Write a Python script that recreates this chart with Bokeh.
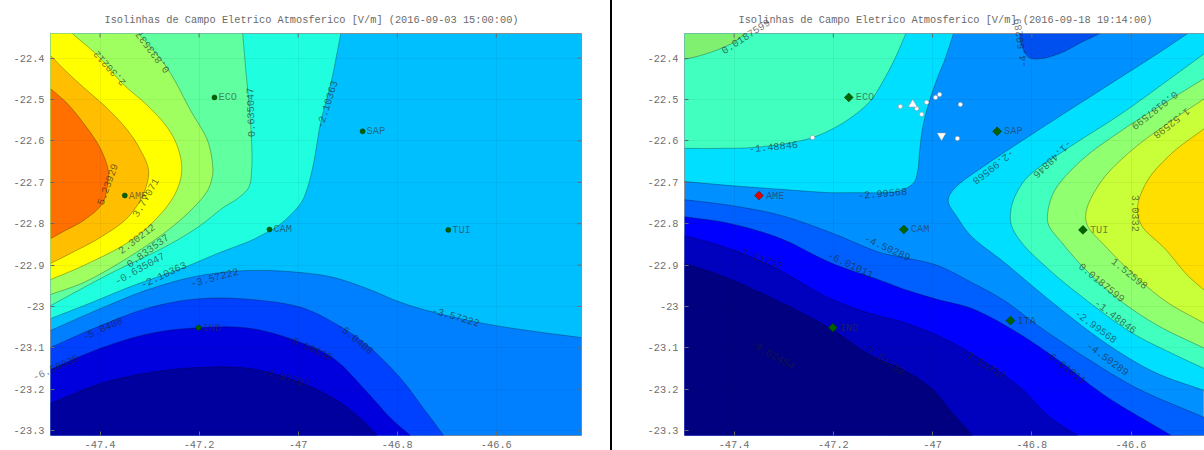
from bokeh.plotting import figure
from bokeh.layouts import row
from bokeh.models import Range1d, FixedTicker, Label, Div
from bokeh.embed import file_html
from bokeh.resources import INLINE

TITLE_L = "Isolinhas de Campo Eletrico Atmosferico [V/m] (2016-09-03 15:00:00)"
TITLE_R = "Isolinhas de Campo Eletrico Atmosferico [V/m] (2016-09-18 19:14:00)"
X_TICKS = [-47.4, -47.2, -47.0, -46.8, -46.6]
X_TICK_LABELS = ["-47.4", "-47.2", "-47", "-46.8", "-46.6"]
Y_TICKS = [-22.4, -22.5, -22.6, -22.7, -22.8, -22.9, -23.0, -23.1, -23.2, -23.3]
Y_TICK_LABELS = ["-22.4", "-22.5", "-22.6", "-22.7", "-22.8", "-22.9", "-23", "-23.1", "-23.2", "-23.3"]

# Left panel: contour boundaries (lon, lat)
L_CYAN_LON = [-46.914, -46.934, -46.955, -46.969, -46.983, -46.995, -47.039, -47.076, -47.096, -47.163, -47.231, -47.332, -47.433, -47.500]
L_CYAN_LAT = [-22.341, -22.461, -22.558, -22.655, -22.720, -22.751, -22.804, -22.829, -22.841, -22.872, -22.906, -22.949, -22.998, -23.029]
L_TEAL_LON = [-47.112, -47.106, -47.100, -47.094, -47.094, -47.100, -47.122, -47.151, -47.203, -47.272, -47.379, -47.500]
L_TEAL_LAT = [-22.341, -22.425, -22.503, -22.599, -22.672, -22.713, -22.739, -22.761, -22.809, -22.858, -22.920, -22.998]
L_GREEN_LON = [-47.322, -47.264, -47.217, -47.183, -47.173, -47.173, -47.183, -47.217, -47.272, -47.353, -47.433, -47.500]
L_GREEN_LAT = [-22.341, -22.425, -22.527, -22.599, -22.655, -22.684, -22.720, -22.768, -22.824, -22.889, -22.942, -22.971]
L_YELLOW_LON = [-47.456, -47.405, -47.355, -47.304, -47.264, -47.243, -47.235, -47.248, -47.284, -47.338, -47.433, -47.500]
L_YELLOW_LAT = [-22.341, -22.394, -22.461, -22.515, -22.568, -22.616, -22.672, -22.727, -22.785, -22.841, -22.901, -22.935]
L_AMBER_LON = [-47.500, -47.466, -47.433, -47.385, -47.344, -47.318, -47.302, -47.312, -47.344, -47.399, -47.460, -47.500]
L_AMBER_LAT = [-22.394, -22.435, -22.471, -22.522, -22.575, -22.623, -22.672, -22.727, -22.785, -22.833, -22.872, -22.896]
L_ORANGE_LON = [-47.500, -47.466, -47.433, -47.405, -47.389, -47.383, -47.385, -47.395, -47.433, -47.474, -47.500]
L_ORANGE_LAT = [-22.474, -22.510, -22.558, -22.606, -22.647, -22.676, -22.708, -22.751, -22.792, -22.819, -22.836]
L_B1_LON = [-47.500, -47.399, -47.298, -47.197, -47.096, -46.995, -46.928, -46.860, -46.793, -46.726, -46.625, -46.524, -46.428]
L_B1_LAT = [-23.058, -23.005, -22.957, -22.925, -22.913, -22.918, -22.930, -22.957, -22.990, -23.014, -23.041, -23.060, -23.075]
L_B2_LON = [-47.500, -47.399, -47.298, -47.197, -47.096, -46.995, -46.928, -46.860, -46.793, -46.747, -46.706]
L_B2_LAT = [-23.099, -23.046, -23.002, -22.981, -22.983, -23.002, -23.039, -23.094, -23.174, -23.246, -23.312]
L_B3_LON = [-47.500, -47.399, -47.298, -47.197, -47.096, -46.995, -46.928, -46.860, -46.813, -46.773]
L_B3_LAT = [-23.152, -23.101, -23.065, -23.051, -23.053, -23.087, -23.126, -23.208, -23.270, -23.312]
L_NAVY_LON = [-47.500, -47.399, -47.298, -47.197, -47.096, -46.995, -46.928, -46.874, -46.840]
L_NAVY_LAT = [-23.234, -23.186, -23.159, -23.147, -23.150, -23.184, -23.222, -23.270, -23.312]

# Right panel: contour boundaries (lon, lat)
R_CYANL_LON = [-47.5, -47.407, -47.306, -47.206, -47.159, -47.105, -47.065, -47.038, -47.030, -47.026, -47.020, -47.008, -46.990, -46.976, -46.958]
R_CYANL_LAT = [-22.698, -22.708, -22.717, -22.725, -22.725, -22.725, -22.720, -22.701, -22.672, -22.623, -22.568, -22.510, -22.447, -22.406, -22.341]
R_TEALL_LON = [-47.5, -47.427, -47.361, -47.292, -47.242, -47.200, -47.159, -47.125, -47.099, -47.075, -47.054]
R_TEALL_LAT = [-22.618, -22.618, -22.616, -22.606, -22.592, -22.570, -22.539, -22.503, -22.454, -22.399, -22.341]
R_GREENL_LON = [-47.5, -47.468, -47.427, -47.401, -47.377]
R_GREENL_LAT = [-22.403, -22.394, -22.377, -22.362, -22.341]
R_BLOB_LON = [-46.825, -46.819, -46.805, -46.780, -46.740, -46.700, -46.663]
R_BLOB_LAT = [-22.341, -22.375, -22.399, -22.401, -22.387, -22.362, -22.341]
R_CYANR_LON = [-46.486, -46.546, -46.653, -46.788, -46.889, -46.950, -46.966, -46.968, -46.950, -46.923, -46.855, -46.768, -46.653, -46.552, -46.452]
R_CYANR_LAT = [-22.341, -22.389, -22.471, -22.575, -22.655, -22.708, -22.732, -22.749, -22.785, -22.829, -22.894, -22.981, -23.087, -23.159, -23.203]
R_TEALR_LON = [-46.452, -46.518, -46.619, -46.734, -46.809, -46.835, -46.843, -46.841, -46.821, -46.768, -46.694, -46.599, -46.518, -46.452]
R_TEALR_LAT = [-22.389, -22.447, -22.534, -22.623, -22.688, -22.737, -22.775, -22.804, -22.845, -22.908, -22.981, -23.063, -23.113, -23.150]
R_GREENR_LON = [-46.452, -46.518, -46.619, -46.700, -46.754, -46.768, -46.766, -46.740, -46.694, -46.627, -46.546, -46.452]
R_GREENR_LAT = [-22.449, -22.498, -22.575, -22.647, -22.720, -22.775, -22.804, -22.845, -22.908, -22.981, -23.046, -23.101]
R_LIME_LON = [-46.452, -46.518, -46.599, -46.659, -46.690, -46.688, -46.653, -46.599, -46.532, -46.452]
R_LIME_LAT = [-22.498, -22.551, -22.623, -22.696, -22.768, -22.804, -22.853, -22.918, -22.986, -23.041]
R_YELLOW_LON = [-46.452, -46.518, -46.567, -46.587, -46.579, -46.532, -46.486, -46.452]
R_YELLOW_LAT = [-22.570, -22.630, -22.696, -22.761, -22.804, -22.860, -22.925, -22.961]
R_B1_LON = [-47.5, -47.407, -47.306, -47.206, -47.105, -47.056, -46.990, -46.921, -46.855, -46.788, -46.688, -46.587, -46.452]
R_B1_LAT = [-22.742, -22.756, -22.780, -22.821, -22.870, -22.882, -22.901, -22.942, -22.986, -23.046, -23.126, -23.198, -23.268]
R_B2_LON = [-47.5, -47.407, -47.306, -47.206, -47.105, -47.056, -46.990, -46.921, -46.843, -46.754, -46.653, -46.518]
R_B2_LAT = [-22.783, -22.800, -22.836, -22.894, -22.937, -22.959, -22.983, -23.005, -23.053, -23.123, -23.215, -23.312]
R_B3_LON = [-47.5, -47.427, -47.327, -47.206, -47.125, -47.056, -46.990, -46.921, -46.821, -46.768, -46.708]
R_B3_LAT = [-22.829, -22.853, -22.901, -22.981, -23.017, -23.039, -23.070, -23.114, -23.198, -23.263, -23.312]
R_NAVY_LON = [-47.5, -47.427, -47.327, -47.206, -47.125, -47.056, -47.002, -46.956, -46.919]
R_NAVY_LAT = [-22.896, -22.925, -22.978, -23.053, -23.118, -23.155, -23.198, -23.263, -23.312]

# Stations
STATION_NAMES = ["ECO", "AME", "SAP", "CAM", "TUI", "IND", "ITA"]
STATION_LON = [-47.169, -47.350, -46.870, -47.058, -46.697, -47.201, -46.843]
STATION_LAT = [-22.495, -22.732, -22.577, -22.814, -22.815, -23.051, -23.034]

# Right panel: small white markers
DOT_LON = [-47.242, -47.065, -47.032, -47.022, -47.012, -46.994, -46.986, -46.944, -46.950]
DOT_LAT = [-22.592, -22.517, -22.522, -22.536, -22.507, -22.495, -22.488, -22.512, -22.594]
TRI_UP_LON, TRI_UP_LAT = [-47.040], [-22.512]
TRI_DOWN_LON, TRI_DOWN_LAT = [-46.982], [-22.587]

# Contour labels: text, lon, lat, angle
L_LABEL_TEXT = ["0.833537", "2.30212", "0.635047", "-2.10363", "5.23929", "3.77071", "2.30212", "0.833537", "-0.635047",
                "-2.10363", "-3.57222", "-5.0408", "-6.50938", "-6.50938", "-5.0408", "-3.57222", "-7.97797"]
L_LABEL_LON = [-47.292, -47.381, -47.096, -46.942, -47.385, -47.308, -47.326, -47.304, -47.320,
               -47.272, -47.169, -47.395, -47.488, -46.977, -46.884, -46.682, -47.025]
L_LABEL_LAT = [-22.387, -22.425, -22.531, -22.512, -22.705, -22.737, -22.836, -22.865, -22.908,
               -22.923, -22.930, -23.053, -23.150, -23.099, -23.077, -23.024, -23.171]
L_LABEL_ANGLE = [127, 132, 92, 72, 70, 60, 37, 36, 29, 25, 15, 24, 24, -24, -40, -16, -15]
L_OVERHANG = [0, 12]   # labels that stick out of the frame

R_LABEL_TEXT = ["0.0187599", "-1.48846", "-2.99568", "-4.50289", "-2.99568", "-1.48846", "0.0187599", "1.52598", "3.0332",
                "1.52598", "0.0187599", "-1.48846", "-2.99568", "-4.50289", "-6.01011", "-7.51732",
                "-4.50289", "-6.01011", "-7.51732", "-9.02454", "-7.51732"]
R_LABEL_LON = [-47.375, -47.321, -47.101, -46.821, -46.877, -46.758, -46.552, -46.518, -46.591,
               -46.603, -46.659, -46.631, -46.671, -46.647, -46.732, -46.897,
               -47.091, -47.165, -47.349, -47.323, -47.099]
R_LABEL_LAT = [-22.350, -22.614, -22.727, -22.365, -22.664, -22.645, -22.527, -22.558, -22.775,
               -22.920, -22.942, -23.024, -23.048, -23.126, -23.145, -23.138,
               -22.858, -22.899, -22.882, -23.116, -23.126]
R_LABEL_ANGLE = [33, 5, 5, 98, 218, 224, 218, 218, -90, -39, -39, -37, -36, -36, -38, -30, -24, -25, -20, -30, -33]
R_OVERHANG = [0, 3]

FONT = "Liberation Mono"
FS = "10.3px"
Y_BOTTOM, Y_TOP = -23.3115, -22.3407


def smooth(lon, lat, n=8):
    """Centripetal Catmull-Rom curve through the read points (drawing only)."""
    pts = [(x * 495.0, y * 414.0) for x, y in zip(lon, lat)]
    ext = [(2 * pts[0][0] - pts[1][0], 2 * pts[0][1] - pts[1][1])] + pts + \
          [(2 * pts[-1][0] - pts[-2][0], 2 * pts[-1][1] - pts[-2][1])]
    out = [pts[0]]
    for i in range(1, len(ext) - 2):
        p0, p1, p2, p3 = ext[i - 1], ext[i], ext[i + 1], ext[i + 2]
        def knot(a, b):
            return max(((a[0] - b[0]) ** 2 + (a[1] - b[1]) ** 2) ** 0.25, 1e-6)
        t0 = 0.0
        t1 = t0 + knot(p0, p1)
        t2 = t1 + knot(p1, p2)
        t3 = t2 + knot(p2, p3)
        for k in range(1, n + 1):
            t = t1 + (t2 - t1) * k / n
            def lerp(a, b, ta, tb):
                w = (t - ta) / (tb - ta)
                return (a[0] * (1 - w) + b[0] * w, a[1] * (1 - w) + b[1] * w)
            a1 = lerp(p0, p1, t0, t1)
            a2 = lerp(p1, p2, t1, t2)
            a3 = lerp(p2, p3, t2, t3)
            b1 = lerp(a1, a2, t0, t2)
            b2 = lerp(a2, a3, t1, t3)
            out.append(lerp(b1, b2, t1, t2))
    return [c[0] / 495.0 for c in out], [c[1] / 414.0 for c in out]


def panel(title, title_offset, width, border_left, border_right, x_end, base_color):
    p = figure(width=width, height=450, output_backend="svg", toolbar_location=None,
               x_range=Range1d(-47.5, x_end), y_range=Range1d(Y_BOTTOM, Y_TOP),
               min_border_left=border_left, min_border_right=border_right, min_border_top=33,
               min_border_bottom=15, background_fill_color=base_color,
               outline_line_color="#8f8f8f", outline_line_width=1, title=title)
    p.title.text_font = FONT
    p.title.text_font_size = FS
    p.title.text_font_style = "normal"
    p.title.text_color = "#6a6a6a"
    p.title.align = "left"
    p.title.offset = title_offset
    p.title.standoff = 15
    for ax, ticks, labels in ((p.xaxis[0], X_TICKS, X_TICK_LABELS), (p.yaxis[0], Y_TICKS, Y_TICK_LABELS)):
        ax.ticker = FixedTicker(ticks=ticks)
        ax.major_label_overrides = dict(zip(ticks, labels))
        ax.major_label_text_font = FONT
        ax.major_label_text_font_size = FS
        ax.major_label_text_color = "#6e6e6e"
        ax.major_tick_in = 4
        ax.major_tick_out = 0
        ax.minor_tick_line_color = None
        ax.axis_line_color = None
        ax.major_tick_line_color = "#707070"
    p.xaxis[0].major_label_standoff = 5
    p.yaxis[0].major_label_standoff = 6
    for g, ticks in ((p.xgrid[0], X_TICKS), (p.ygrid[0], Y_TICKS)):
        g.ticker = FixedTicker(ticks=ticks)
        g.grid_line_color = "#000000"
        g.grid_line_alpha = 0.05
        g.grid_line_width = 1
        g.level = "overlay"
    return p


def frame_ticks(p, x_end, right_side):
    dy = 4 / 414.0
    dx = 4 / 495.0
    p.segment(X_TICKS, [Y_TOP] * len(X_TICKS), X_TICKS, [Y_TOP - dy] * len(X_TICKS),
              line_color="#707070", line_width=1, level="overlay")
    if right_side:
        p.segment([x_end] * len(Y_TICKS), Y_TICKS, [x_end - dx] * len(Y_TICKS), Y_TICKS,
                  line_color="#707070", line_width=1, level="overlay")


def band(p, color, lon, lat, close, x_end):
    corners = {"TL": [(-47.5, Y_TOP)], "BL_BR": [(x_end, Y_BOTTOM), (-47.5, Y_BOTTOM)],
               "BL": [(-47.5, Y_BOTTOM)], "TR": [(x_end, Y_TOP)], "NONE": []}[close]
    sx, sy = smooth(lon, lat)
    xs = sx + [c[0] for c in corners]
    ys = sy + [c[1] for c in corners]
    p.patch(xs, ys, fill_color=color, line_color=None)
    p.line(sx, sy, line_color="#000000", line_alpha=0.32, line_width=0.9)


def text_labels(p, texts, lons, lats, angles, skip):
    for i, (t, x, y, a) in enumerate(zip(texts, lons, lats, angles)):
        if i in skip:
            continue
        p.add_layout(Label(x=x, y=y, text=t, angle=a, angle_units="deg", text_font=FONT, text_font_size=FS,
                           text_color="#202020", text_alpha=0.62, text_align="center", text_baseline="middle",
                           level="overlay"))


def overhang_spans(texts, lons, lats, angles, idx, page_left, frame_w, x_end, sep_left):
    """Labels that overhang the frame; annotations are clipped to it, so these go in the page above the figures."""
    html = ""
    for i in idx:
        sx = page_left + (lons[i] + 47.5) / (x_end + 47.5) * frame_w - sep_left
        sy = 33 + (Y_TOP - lats[i]) / (Y_TOP - Y_BOTTOM) * 402
        html += (f'<span style="position:absolute;left:{sx:.1f}px;top:{sy:.1f}px;white-space:nowrap;line-height:1;'
                 f'font-family:\'{FONT}\';font-size:{FS};color:rgba(32,32,32,0.62);'
                 f'transform:translate(-50%,-50%) rotate({-angles[i]}deg);">{texts[i]}</span>')
    return html


def station_labels(p, idx, offset):
    for i in idx:
        p.add_layout(Label(x=STATION_LON[i], y=STATION_LAT[i], text=STATION_NAMES[i], x_offset=offset, text_font=FONT,
                           text_font_size=FS, text_color="#303030", text_alpha=0.6, text_align="left",
                           text_baseline="middle"))


# ---- left panel ----
XL = -46.428
pl = panel(TITLE_L, 54, 610, 50, 29, XL, "#00BFFF")
band(pl, "#1FFFE0", L_CYAN_LON, L_CYAN_LAT, "TL", XL)
band(pl, "#60FFA0", L_TEAL_LON, L_TEAL_LAT, "TL", XL)
band(pl, "#A0FF60", L_GREEN_LON, L_GREEN_LAT, "TL", XL)
band(pl, "#FFFF00", L_YELLOW_LON, L_YELLOW_LAT, "TL", XL)
band(pl, "#FFBF00", L_AMBER_LON, L_AMBER_LAT, "NONE", XL)
band(pl, "#FF7000", L_ORANGE_LON, L_ORANGE_LAT, "NONE", XL)
band(pl, "#0080FF", L_B1_LON, L_B1_LAT, "BL_BR", XL)
band(pl, "#0040FF", L_B2_LON, L_B2_LAT, "BL", XL)
band(pl, "#0000DF", L_B3_LON, L_B3_LAT, "BL", XL)
band(pl, "#00009F", L_NAVY_LON, L_NAVY_LAT, "BL", XL)
frame_ticks(pl, XL, True)
L_IDX = [0, 1, 2, 3, 4, 5]
pl.scatter([STATION_LON[i] for i in L_IDX], [STATION_LAT[i] for i in L_IDX], marker="circle", size=5,
           fill_color="#006400", line_color="#003000", line_width=0.5)
station_labels(pl, L_IDX, 4)
text_labels(pl, L_LABEL_TEXT, L_LABEL_LON, L_LABEL_LAT, L_LABEL_ANGLE, L_OVERHANG)

# ---- right panel ----
XR = -46.452
pr = panel(TITLE_R, 54, 592, 72, 0, XR, "#0090FF")
band(pr, "#0050F0", R_BLOB_LON, R_BLOB_LAT, "NONE", XR)
band(pr, "#00DFFF", R_CYANL_LON, R_CYANL_LAT, "TL", XR)
band(pr, "#40FFBF", R_TEALL_LON, R_TEALL_LAT, "TL", XR)
band(pr, "#80F070", R_GREENL_LON, R_GREENL_LAT, "TL", XR)
band(pr, "#00DFFF", R_CYANR_LON, R_CYANR_LAT, "TR", XR)
band(pr, "#40FFBF", R_TEALR_LON, R_TEALR_LAT, "NONE", XR)
band(pr, "#90FF70", R_GREENR_LON, R_GREENR_LAT, "NONE", XR)
band(pr, "#C8FF38", R_LIME_LON, R_LIME_LAT, "NONE", XR)
band(pr, "#FFDF00", R_YELLOW_LON, R_YELLOW_LAT, "NONE", XR)
band(pr, "#0060FF", R_B1_LON, R_B1_LAT, "BL_BR", XR)
band(pr, "#0000FF", R_B2_LON, R_B2_LAT, "BL_BR", XR)
band(pr, "#0000BF", R_B3_LON, R_B3_LAT, "BL", XR)
band(pr, "#000080", R_NAVY_LON, R_NAVY_LAT, "BL", XR)
frame_ticks(pr, XR, False)
R_IDX = [0, 2, 3, 4, 5, 6]
pr.scatter([STATION_LON[i] for i in R_IDX], [STATION_LAT[i] for i in R_IDX], marker="square", size=6.2, angle=0.785,
           fill_color="#006400", line_color="#003000", line_width=0.6)
pr.scatter([STATION_LON[1]], [STATION_LAT[1]], marker="square", size=6.2, angle=0.785, fill_color="#E00000",
           line_color="#502020", line_width=0.6)
pr.scatter(DOT_LON, DOT_LAT, marker="circle", size=4.5, fill_color="#FFFFFF", line_color="#8090A0", line_width=0.6)
pr.scatter(TRI_UP_LON, TRI_UP_LAT, marker="triangle", size=9, fill_color="#FFFFFF", line_color="#8090A0", line_width=0.5)
pr.scatter(TRI_DOWN_LON, TRI_DOWN_LAT, marker="inverted_triangle", size=9, fill_color="#FFFFFF", line_color="#8090A0",
           line_width=0.5)
station_labels(pr, [0, 1, 2, 3, 4, 5, 6], 7)
text_labels(pr, R_LABEL_TEXT, R_LABEL_LON, R_LABEL_LAT, R_LABEL_ANGLE, R_OVERHANG)

# separator bar, which also carries the overhanging labels above both figures
spans = overhang_spans(L_LABEL_TEXT, L_LABEL_LON, L_LABEL_LAT, L_LABEL_ANGLE, L_OVERHANG, 50, 531, XL, 610)
spans += overhang_spans(R_LABEL_TEXT, R_LABEL_LON, R_LABEL_LAT, R_LABEL_ANGLE, R_OVERHANG, 684, 520, XR, 610)
sep = Div(text=spans, width=2, height=450, margin=0,
          styles={"background-color": "#000000", "overflow": "visible", "z-index": "10"})

layout = row(pl, sep, pr, spacing=0)
open("out.html", "w").write(file_html(layout, INLINE))
